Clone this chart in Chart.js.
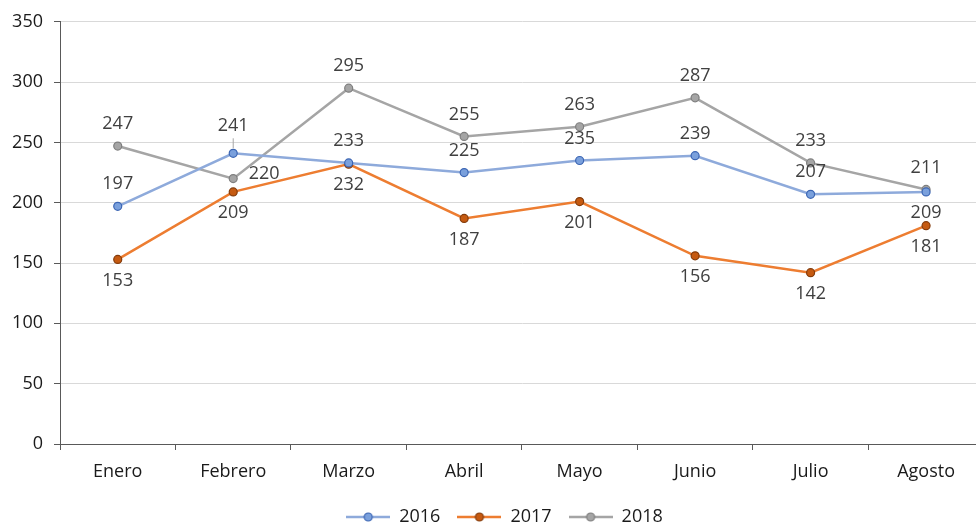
<!DOCTYPE html>
<html lang="es">
<head>
    <meta charset="UTF-8">
    <title>Comparativo mensual 2016-2018</title>
    <style>
        html, body {
            margin: 0;
            padding: 0;
            background: #ffffff;
            overflow: hidden;
        }
        canvas {
            display: block;
        }
    </style>
</head>
<body>
    <canvas id="chart" width="989" height="536"></canvas>

    <script src="https://cdn.jsdelivr.net/npm/chart.js"></script>
    <script>
        // Datos
        const meses = ["Enero", "Febrero", "Marzo", "Abril", "Mayo", "Junio", "Julio", "Agosto"];
        const serie2016 = [197, 241, 233, 225, 235, 239, 207, 209];
        const serie2017 = [153, 209, 232, 187, 201, 156, 142, 181];
        const serie2018 = [247, 220, 295, 255, 263, 287, 233, 211];
        const ejeY = [0, 50, 100, 150, 200, 250, 300, 350];

        // donde va cada etiqueta de dato
        const pos2016 = ["arriba", "guia", "arriba", "arriba", "arriba", "arriba", "arriba", "abajo"];
        const pos2017 = ["abajo", "abajo", "abajo", "abajo", "abajo", "abajo", "abajo", "abajo"];
        const pos2018 = ["arriba", "derecha", "arriba", "arriba", "arriba", "arriba", "arriba", "arriba"];

        const fuente = "'Open Sans', 'Noto Sans', sans-serif";

        // icono de leyenda: linea con punto
        function iconoLeyenda(linea, relleno, borde) {
            const c = document.createElement('canvas');
            c.width = 44;
            c.height = 12;
            const g = c.getContext('2d');
            g.strokeStyle = linea;
            g.lineWidth = 2.5;
            g.beginPath();
            g.moveTo(0, 6);
            g.lineTo(44, 6);
            g.stroke();
            g.beginPath();
            g.arc(22, 6, 4, 0, Math.PI * 2);
            g.fillStyle = relleno;
            g.fill();
            g.lineWidth = 1.2;
            g.strokeStyle = borde;
            g.stroke();
            return c;
        }

        // etiquetas de datos (sin plugin externo)
        const etiquetas = {
            id: 'etiquetas',
            afterLayout(chart) {
                // la leyenda del original no esta centrada en el lienzo
                chart.legend.left += 10;
                chart.legend.right += 10;
            },
            afterDatasetsDraw(chart) {
                const ctx = chart.ctx;
                ctx.save();
                ctx.font = "18px " + fuente;
                ctx.fillStyle = "#404040";
                ctx.textAlign = "center";
                ctx.textBaseline = "middle";
                chart.data.datasets.forEach((ds, d) => {
                    const meta = chart.getDatasetMeta(d);
                    meta.data.forEach((pt, i) => {
                        const p = ds.posiciones[i];
                        let x = pt.x, y = pt.y;
                        if (p === "arriba") y -= 22;
                        else if (p === "abajo") y += 21;
                        else if (p === "derecha") { x += 31; y -= 5; }
                        else if (p === "guia") {
                            y -= 27;
                            ctx.strokeStyle = "#a6a6a6";
                            ctx.lineWidth = 1;
                            ctx.beginPath();
                            ctx.moveTo(pt.x, pt.y - 5);
                            ctx.lineTo(pt.x, pt.y - 15);
                            ctx.stroke();
                        }
                        ctx.fillText(ds.data[i], x, y);
                    });
                });
                ctx.restore();
            }
        };

        const ctx = document.getElementById('chart').getContext('2d');
        const chart = new Chart(ctx, {
            type: 'line',
            data: {
                labels: meses,
                datasets: [{
                    label: '2016',
                    data: serie2016,
                    posiciones: pos2016,
                    borderColor: '#8eaadb',
                    backgroundColor: '#8eaadb',
                    pointBackgroundColor: '#7aa0dc',
                    pointBorderColor: '#3c66b4',
                    icono: iconoLeyenda('#8eaadb', '#7aa0dc', '#3c66b4')
                }, {
                    label: '2017',
                    data: serie2017,
                    posiciones: pos2017,
                    borderColor: '#ed7d31',
                    backgroundColor: '#ed7d31',
                    pointBackgroundColor: '#c55a11',
                    pointBorderColor: '#843c0c',
                    icono: iconoLeyenda('#ed7d31', '#c55a11', '#843c0c')
                }, {
                    label: '2018',
                    data: serie2018,
                    posiciones: pos2018,
                    borderColor: '#a5a5a5',
                    backgroundColor: '#a5a5a5',
                    pointBackgroundColor: '#a5a5a5',
                    pointBorderColor: '#7f7f7f',
                    icono: iconoLeyenda('#a5a5a5', '#a5a5a5', '#7f7f7f')
                }]
            },
            options: {
                responsive: false,
                animation: false,
                layout: { padding: { top: 9, left: 0, right: 0, bottom: 0 } },
                elements: {
                    line: { borderWidth: 2.5, tension: 0 },
                    point: { radius: 4, borderWidth: 1.2, hoverRadius: 4 }
                },
                scales: {
                    x: {
                        offset: true,
                        grid: {
                            offset: true,
                            drawOnChartArea: false,
                            tickLength: 6,
                            tickColor: '#595959'
                        },
                        border: { color: '#595959', width: 1 },
                        ticks: {
                            color: '#1a1a1a',
                            font: { family: fuente, size: 18 },
                            padding: 11,
                            maxRotation: 0
                        },
                        afterFit(scale) { scale.height = 47; }
                    },
                    y: {
                        min: 0,
                        max: 350,
                        afterBuildTicks(scale) { scale.ticks = ejeY.map(v => ({ value: v })); },
                        grid: {
                            color: '#d9d9d9',
                            tickLength: 6,
                            tickColor: '#595959'
                        },
                        border: { color: '#595959', width: 1 },
                        ticks: {
                            color: '#1a1a1a',
                            font: { family: fuente, size: 18 },
                            padding: 11
                        },
                        afterFit(scale) { scale.width = 60; }
                    }
                },
                plugins: {
                    tooltip: { enabled: false },
                    legend: {
                        position: 'bottom',
                        labels: {
                            usePointStyle: true,
                            pointStyleWidth: 44,
                            boxHeight: 12,
                            color: '#1a1a1a',
                            font: { family: fuente, size: 18 },
                            padding: 17,
                            generateLabels(chart) {
                                return chart.data.datasets.map((ds, i) => ({
                                    text: ds.label,
                                    pointStyle: ds.icono,
                                    fillStyle: ds.borderColor,
                                    strokeStyle: ds.borderColor,
                                    lineWidth: 0,
                                    fontColor: '#1a1a1a',
                                    hidden: false,
                                    datasetIndex: i
                                }));
                            }
                        }
                    }
                }
            },
            plugins: [etiquetas]
        });
    </script>
</body>
</html>
